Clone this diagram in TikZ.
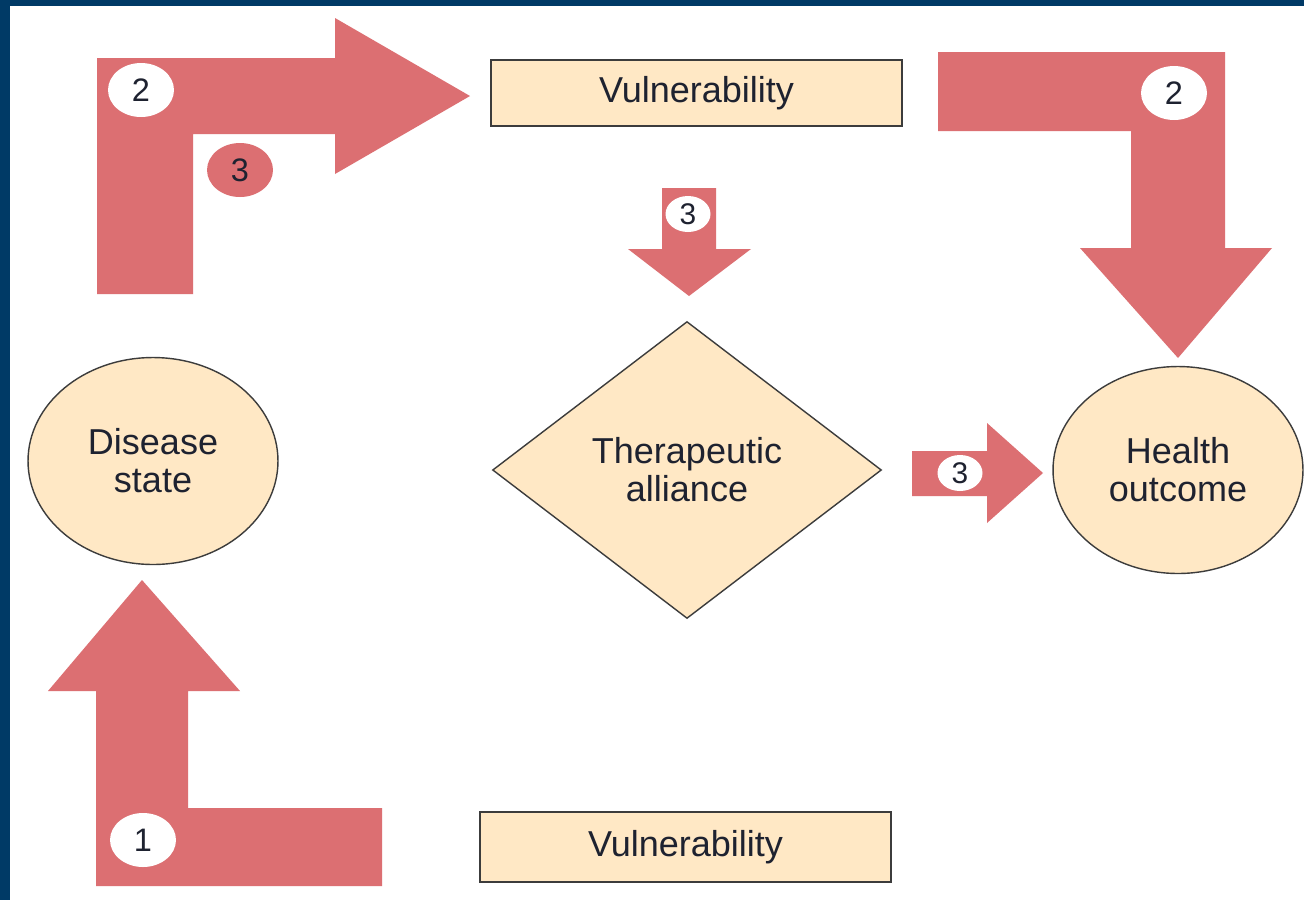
\documentclass[tikz,border=0pt]{standalone}
\usepackage{fontspec}
\setmainfont{Liberation Sans}
\usetikzlibrary{shapes.geometric}
\definecolor{arrowred}{HTML}{DC6F72}
\definecolor{boxfill}{HTML}{FFE8C5}
\definecolor{edgegray}{HTML}{3C3C3C}
\definecolor{inkdark}{HTML}{1E2230}
\definecolor{frameblue}{HTML}{003A66}

\begin{document}
\begin{tikzpicture}[x=0.02cm, y=-0.02cm,
  shape-box/.style={draw=edgegray, line width=0.8pt, fill=boxfill, text=inkdark,
    font=\fontsize{20.5}{21.5}\selectfont, align=center, inner sep=0pt},
  vulbox/.style={shape-box, rectangle, minimum width=8.22cm},
  oval/.style={shape-box, ellipse, minimum width=5cm, minimum height=4.14cm},
  bigarrow/.style={fill=arrowred, draw=none},
  badge/.style={ellipse, fill=white, text=inkdark, inner sep=0pt,
    minimum width=1.32cm, minimum height=1.08cm, font=\fontsize{18.5}{18.5}\selectfont},
  minibadge/.style={badge, minimum width=0.9cm, minimum height=0.72cm,
    font=\fontsize{17}{17}\selectfont}
]
\useasboundingbox (0,0) rectangle (1304,900);
% Frame
\fill[white] (0,0) rectangle (1304,900);
\fill[frameblue] (0,0) rectangle (1304,6);
\fill[frameblue] (0,0) rectangle (10,900);

% Boxes and ovals
\node[vulbox, minimum height=1.32cm] (vul-top) at (696.5,93) {Vulnerability};
\node[vulbox, minimum height=1.4cm] (vul-bot) at (685.5,847) {Vulnerability};
\node[oval] (dis-state) at (153,461) {Disease\\state};
\node[oval] (health-out) at (1178,470) {Health\\outcome};
\node[shape-box, diamond, aspect=1.31, minimum width=7.78cm, minimum height=5.94cm]
  (ther-all) at (687,470) {Therapeutic\\alliance};

% Bent arrows
\fill[bigarrow] (97,294) -- (97,58) -- (335,58) -- (335,18) -- (470,96)
  -- (335,174) -- (335,134) -- (193,134) -- (193,294) -- cycle;
\fill[bigarrow] (938,52) -- (1225,52) -- (1225,248) -- (1272,248) -- (1178,358)
  -- (1080,248) -- (1131,248) -- (1131,131) -- (938,131) -- cycle;
\fill[bigarrow] (96,886) -- (96,691) -- (48,691) -- (142,580) -- (240,691)
  -- (188,691) -- (188,808) -- (382,808) -- (382,886) -- cycle;

% Small arrows
\fill[bigarrow] (662,188) -- (716,188) -- (716,249) -- (751,249) -- (689,296)
  -- (628,249) -- (662,249) -- cycle;
\fill[bigarrow] (912,451) -- (987,451) -- (987,423) -- (1043,473) -- (987,523)
  -- (987,496) -- (912,496) -- cycle;

% Badges
\node[badge] (two-left) at (141,90) {2};
\node[badge, fill=arrowred] (three-red) at (240,170) {3};
\node[badge] (two-right) at (1174,93) {2};
\node[badge] (one) at (143,840) {1};
\node[minibadge] (three-down) at (688,214) {3};
\node[minibadge] (three-right) at (960,473) {3};
\end{tikzpicture}
\end{document}
